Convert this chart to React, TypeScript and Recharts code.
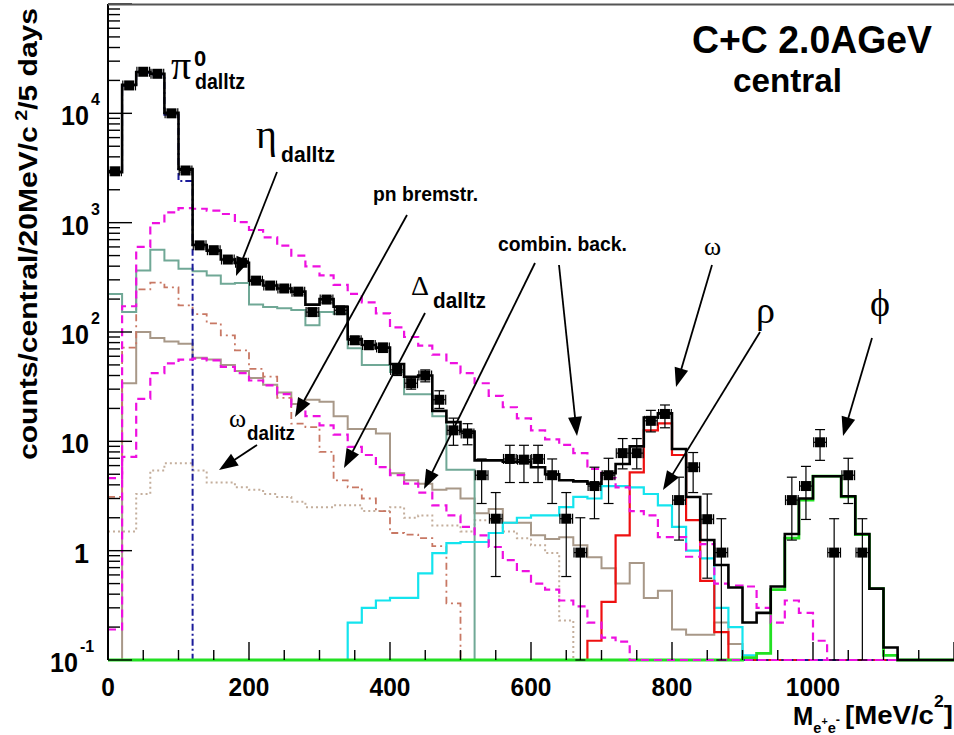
import React from 'react';
import { ComposedChart, Line, Scatter, XAxis, YAxis, ErrorBar } from 'recharts';

// ---------- binning ----------
const BIN_WIDTH = 20; // MeV/c^2
const MASS_MAX = 1200;
const AXIS_FLOOR = 0.1; // contents below the plotted range are drawn on the lower frame

// ---------- axis ticks ----------
const X_TICKS = [0, 50, 100, 150, 200, 250, 300, 350, 400, 450, 500, 550, 600, 650, 700, 750, 800, 850, 900, 950, 1000, 1050, 1100, 1150, 1200];
const X_LABELS = [0, 200, 400, 600, 800, 1000];
const Y_DECADES = [0.1, 1, 10, 100, 1000, 10000];
const Y_MANTISSAS = [1, 2, 3, 4, 5, 6, 7, 8, 9];
const Y_TOP = 100000;
const Y_LABELS = [
  { v: 0.1, base: '10', exp: '-1' },
  { v: 1, base: '1', exp: '' },
  { v: 10, base: '10', exp: '' },
  { v: 100, base: '10', exp: '2' },
  { v: 1000, base: '10', exp: '3' },
  { v: 10000, base: '10', exp: '4' },
];

// ---------- histograms: first bin lower edge + contents per 20 MeV bin ----------
const totalStart = 0;
const total = [2900, 18200, 23900, 23000, 10100, 3100, 625, 555, 460, 430, 295, 266, 250, 234, 178, 200, 170, 86, 76, 72, 51, 39, 40, 19, 15, 12.3, 6.7, 6.7, 6.5, 6.5, 5.8, 5.0, 4.4, 4.3, 4.1, 5.1, 6.2, 9.0, 16.5, 18, 8.5, 3.1, 1.25, 0.74, 0.46, 0.22, 0.27, 0.47, 1.42, 3.0, 4.8, 4.8, 3.15, 1.42, 0.45, 0.13];

const pi0Start = 0;
const pi0Dalitz = [2900, 17800, 23500, 22700, 9700, 2400];

const etaStart = 0;
const etaDalitz = [223, 152, 365, 564, 450, 378, 360, 328, 276, 280, 178, 169, 165, 159, 115, 152, 147, 71, 50, 50, 43, 27, 27, 17, 5.5, 5.5];

const bremsHighStart = 0;
const bremsHigh = [4.6, 172, 600, 990, 1240, 1360, 1340, 1290, 1200, 1010, 857, 735, 617, 500, 398, 330, 270, 223, 187, 148, 110, 90, 75, 62, 52, 42, 34, 26, 20.5, 16.2, 12.6, 10.4, 9.3, 7.8, 5.6, 4.6, 3.8, 2.3, 2.1, 1.33, 1.33, 0.88, 1.15, 0.5, 0.48, 0.47, 0.3, 0.22, 0.35, 0.27, 0.15];

const bremsLowStart = 0;
const bremsLow = [0.19, 7.2, 24.5, 42, 51.6, 55.8, 57, 55, 48, 42, 36, 32.5, 27, 21, 17, 14, 11.5, 8.9, 7.5, 5.8, 4.9, 4.1, 3.4, 2.6, 2.1, 1.65, 1.38, 1.08, 0.82, 0.65, 0.5, 0.44, 0.35, 0.31, 0.22, 0.16, 0.147];

const pnBremsStart = 20;
const pnBrems = [34, 100, 88, 82, 78, 58, 56, 50, 44, 38, 33, 28, 22, 24, 23, 17, 13, 13, 11.8, 5.1, 4.4, 4.1, 3.6, 3.7, 3.0, 2.2, 2.4, 1.8, 1.8, 1.38, 1.28, 1.33, 1.12, 0.87, 0.69, 0.5, 0.77, 0.37, 0.43, 0.19, 0.17, 0.17, 0.22, 0.14];

const deltaStart = 0;
const deltaDalitz = [3.1, 72, 245, 283, 256, 175, 146, 120, 93, 68, 46, 39, 25, 14.5, 13.5, 8, 4.4, 3.8, 3.0, 2.3, 1.45, 1.4, 1.3, 1.1, 0.33];

const omegaDalitzStart = 0;
const omegaDalitz = [1.5, 1.5, 3.3, 5.4, 6.3, 6.3, 5.4, 4.2, 4.2, 3.8, 3.6, 3.3, 3.1, 2.8, 2.5, 2.5, 2.6, 2.6, 2.3, 2.3, 2.5, 2.0, 2.1, 1.7, 1.7, 1.5, 1.9, 1.9, 1.5, 1.3, 1.12, 0.95, 0.23];

const combStart = 340;
const combBack = [0.22, 0.3, 0.35, 0.37, 0.37, 0.62, 0.95, 1.17, 1.2, 1.2, 1.45, 1.8, 2.0, 2.1, 2.1, 2.5, 3.1, 3.0, 3.9, 3.9, 3.8, 3.3, 2.6, 1.65, 1.0, 0.85, 0.3, 0.2, 0.11];

const omegaStart = 680;
const omega = [0.15, 0.34, 1.38, 5.2, 12.6, 14.6, 7.5, 1.9, 0.53, 0.18];

const phiStart = 900;
const phi = [0.105, 0.115, 0.44, 1.3, 2.9, 4.8, 4.8, 3.1, 1.4, 0.45, 0.11];

// ---------- data points ----------
const PT_MASS = [10, 30, 50, 70, 90, 110, 130, 150, 170, 190, 210, 230, 250, 270, 290, 310, 330, 350, 370, 390, 410, 430, 450, 470, 490, 510, 530, 550, 570, 590, 610, 630, 650, 670, 690, 710, 730, 750, 770, 790, 810, 830, 850, 870, 970, 990, 1010, 1030, 1050, 1070];
const PT_COUNTS = [2950, 18000, 24000, 23000, 10000, 3000, 620, 560, 460, 430, 295, 266, 250, 234, 152, 198, 158, 84, 76, 72, 45, 34, 40, 24, 12.6, 11.8, 4.9, 1.96, 6.9, 6.8, 6.9, 4.9, 1.96, 0.96, 3.9, 4.9, 7.8, 7.8, 15.4, 17.8, 2.9, 5.8, 1.94, 0.96, 2.9, 3.9, 9.8, 0.96, 4.9, 0.96];
const PT_LOW = [2850, 17700, 23700, 22700, 9800, 2900, 600, 540, 442, 412, 282, 252, 236, 221, 140, 185, 146, 77, 69, 65, 40, 30, 35, 20, 9.2, 9.3, 2.7, 0.58, 4.2, 4.2, 4.2, 2.7, 0.58, 0.1, 1.96, 2.7, 5.6, 5.6, 12.2, 13.3, 1.25, 3.4, 0.56, 0.1, 1.25, 1.93, 6.7, 0.1, 2.7, 0.1];
const PT_HIGH = [3050, 18300, 24300, 23300, 10200, 3100, 640, 580, 478, 448, 308, 280, 264, 247, 165, 211, 170, 91, 83, 79, 50, 38, 45, 29, 16.3, 14.5, 6.9, 3.4, 9.2, 9.2, 9.2, 6.9, 3.4, 2.0, 5.8, 7.0, 10.6, 10.6, 19.2, 21.5, 4.7, 7.9, 3.3, 1.96, 4.7, 5.9, 12.8, 1.96, 7.0, 1.96];
const PT_XERR = 9;

// ---------- helpers ----------
function hist(start: number, vals: number[]) {
  const n = MASS_MAX / BIN_WIDTH;
  const out: { x: number; v: number }[] = [];
  for (let i = 0; i < n; i++) {
    const edge = i * BIN_WIDTH;
    const k = Math.round((edge - start) / BIN_WIDTH);
    const v = k >= 0 && k < vals.length ? vals[k] : AXIS_FLOOR;
    out.push({ x: edge, v });
  }
  out.push({ x: MASS_MAX, v: out[n - 1].v });
  return out;
}

const Y_TICKS: number[] = [];
Y_DECADES.forEach((d) => Y_MANTISSAS.forEach((m) => Y_TICKS.push(m * d)));
Y_TICKS.push(Y_TOP);

const points = PT_MASS.map((m, i) => ({
  x: m,
  v: PT_COUNTS[i],
  ey: [PT_COUNTS[i] - PT_LOW[i], PT_HIGH[i] - PT_COUNTS[i]],
  ex: PT_XERR,
}));

const SANS = '"Liberation Sans", Arial, Helvetica, sans-serif';
const SERIF = '"Liberation Serif", "DejaVu Serif", "Times New Roman", serif';

const YTick = (props: any) => {
  const { x, y, payload } = props;
  const v = payload.value;
  const lg = Math.log10(v);
  const major = Math.abs(lg - Math.round(lg)) < 1e-6;
  const lab = Y_LABELS.find((l) => Math.abs(Math.log10(l.v) - lg) < 1e-6);
  const neg = lab && lab.exp === '-1';
  const baseRight = neg ? 78 : 89;
  return (
    <g>
      <line x1={x} x2={x + (major ? 24 : 12)} y1={y} y2={y} stroke="#000" strokeWidth={1.4} />
      {lab && (
        <text x={baseRight} y={y + 12} textAnchor="end" fontSize={28} fontWeight="bold" fontFamily={SANS} fill="#000"
          textLength={lab.base.length === 1 ? 15 : 28} lengthAdjust="spacingAndGlyphs">{lab.base}</text>
      )}
      {lab && lab.exp && (
        <text x={baseRight + 2} y={y - 8} fontSize={16} fontWeight="bold" fontFamily={SANS} fill="#000">{lab.exp}</text>
      )}
    </g>
  );
};

const XTick = (props: any) => {
  const { x, y, payload } = props;
  const v = payload.value;
  const major = v % 200 === 0;
  return (
    <g>
      <line x1={x} x2={x} y1={y} y2={y - (major ? 18 : 10)} stroke="#000" strokeWidth={1.4} />
      {X_LABELS.includes(v) && (
        <text x={x} y={y + 36} textAnchor="middle" fontSize={26} fontWeight="bold" fontFamily={SANS} fill="#000"
          textLength={String(v).length * 13.6} lengthAdjust="spacingAndGlyphs">{v}</text>
      )}
    </g>
  );
};

const Arrow = ({ a }: { a: number[] }) => {
  const [x1, y1, x2, y2] = a;
  const dx = x2 - x1, dy = y2 - y1;
  const len = Math.hypot(dx, dy);
  const ux = dx / len, uy = dy / len;
  const L = 19, W = 7;
  const bx = x2 - ux * L, by = y2 - uy * L;
  const px = -uy, py = ux;
  return (
    <g>
      <line x1={x1} y1={y1} x2={bx + ux * 3} y2={by + uy * 3} stroke="#000" strokeWidth={1.8} />
      <polygon points={`${x2},${y2} ${bx + px * W},${by + py * W} ${bx - px * W},${by - py * W}`} fill="#000" />
    </g>
  );
};

const ARROWS = [
  [277, 172, 236, 276],
  [407, 215, 295, 417],
  [425, 313, 344, 468],
  [535, 263, 424, 489],
  [559, 265, 577, 436],
  [712, 265, 676, 387],
  [760, 332, 663, 490],
  [872, 338, 843, 436],
  [257, 445, 219, 470],
];

const square = (p: any) => <rect x={p.cx - 5} y={p.cy - 5} width={10} height={10} fill="#000" />;

export default function App() {
  const common = { type: 'stepAfter' as const, dataKey: 'v', dot: false, activeDot: false, isAnimationActive: false };
  return (
    <div style={{ position: 'absolute', left: 0, top: 0, width: 954, height: 735, background: '#fff', overflow: 'hidden' }}>
      <ComposedChart width={954} height={735} margin={{ top: 4, right: 0, bottom: 35, left: 8 }}>
        <XAxis dataKey="x" type="number" domain={[0, MASS_MAX]} ticks={X_TICKS} interval={0} tickSize={0} tickMargin={0}
          tickLine={false} tick={(p: any) => <XTick {...p} />} axisLine={false} height={40} />
        <YAxis type="number" scale="log" domain={[0.1, Y_TOP]} ticks={Y_TICKS} interval={0} tickSize={0} tickMargin={0}
          tickLine={false} tick={(p: any) => <YTick {...p} />} axisLine={{ stroke: '#000', strokeWidth: 2 }} width={100} />
        <Line {...common} data={hist(omegaDalitzStart, omegaDalitz)} stroke="#c4ae9c" strokeWidth={2} strokeDasharray="2 3" />
        <Line {...common} data={hist(pnBremsStart, pnBrems)} stroke="#a89888" strokeWidth={2} />
        <Line {...common} data={hist(deltaStart, deltaDalitz)} stroke="#c87864" strokeWidth={1.8} strokeDasharray="7 4 2 4" />
        <Line {...common} data={hist(etaStart, etaDalitz)} stroke="#70a896" strokeWidth={2} />
        <Line {...common} data={hist(combStart, combBack)} stroke="#14e4ee" strokeWidth={2.2} />
        <Line {...common} data={hist(omegaStart, omega)} stroke="#ee1010" strokeWidth={2.2} />
        <Line {...common} data={hist(pi0Start, pi0Dalitz)} stroke="#1b1b9a" strokeWidth={2} strokeDasharray="7 3 2 3" />
        <Line {...common} data={hist(phiStart, phi)} stroke="#22e022" strokeWidth={2.8} />
        <Line {...common} data={hist(bremsLowStart, bremsLow)} stroke="#ee10e0" strokeWidth={2.2} strokeDasharray="8 5" />
        <Line {...common} data={hist(bremsHighStart, bremsHigh)} stroke="#ee10e0" strokeWidth={2.2} strokeDasharray="8 5" />
        <Line {...common} data={hist(totalStart, total)} stroke="#000" strokeWidth={2.6} />
        <Scatter data={points} dataKey="v" shape={square} isAnimationActive={false}>
          <ErrorBar dataKey="ey" direction="y" width={5} stroke="#000" strokeWidth={1.2} />
          <ErrorBar dataKey="ex" direction="x" width={5} stroke="#000" strokeWidth={1.2} />
        </Scatter>
      </ComposedChart>
      <svg width={954} height={735} style={{ position: 'absolute', left: 0, top: 0, pointerEvents: 'none' }}>
        <line x1={108} y1={4.5} x2={954} y2={4.5} stroke="#555" strokeWidth={2} />
        {/* y axis title */}
        <text transform="translate(37,234) rotate(-90)" textAnchor="middle" fontSize={26} fontWeight="bold" fontFamily={SANS}
          textLength={452} lengthAdjust="spacingAndGlyphs">
          counts/central/20MeV/c<tspan dy={-10} fontSize={17}> 2</tspan><tspan dy={10}>/5 days</tspan>
        </text>
        {/* x axis title */}
        <text x={793} y={725} fontSize={25} fontWeight="bold" fontFamily={SANS} fill="#000"
          textLength={47} lengthAdjust="spacingAndGlyphs">
          M<tspan fontSize={15} dy={8}>e</tspan><tspan fontSize={11} dy={-8}>+</tspan><tspan fontSize={15} dy={8}>e</tspan><tspan fontSize={13} dy={-9}>-</tspan>
        </text>
        <text x={845} y={724} fontSize={25} fontWeight="bold" fontFamily={SANS} fill="#000"
          textLength={108} lengthAdjust="spacingAndGlyphs">
          [MeV/c<tspan fontSize={16} dy={-17}>2</tspan><tspan dy={17}>]</tspan>
        </text>
        {/* title */}
        <g fontFamily={SANS} fontWeight="bold" fill="#000">
          <text x={692} y={53} fontSize={38} textLength={240} lengthAdjust="spacingAndGlyphs">C+C 2.0AGeV</text>
          <text x={733} y={92} fontSize={34} textLength={109} lengthAdjust="spacingAndGlyphs">central</text>
        </g>
        {/* annotations */}
        <g fill="#000">
          <text x={171} y={79} fontSize={40} fontFamily={SERIF}>π</text>
          <text x={194} y={66} fontSize={22} fontWeight="bold" fontFamily={SANS}>0</text>
          <text x={195} y={89} fontSize={22} fontWeight="bold" fontFamily={SANS} textLength={50} lengthAdjust="spacingAndGlyphs">dalltz</text>

          <text x={256} y={148} fontSize={40} fontFamily={SERIF}>η</text>
          <text x={281} y={162} fontSize={22} fontWeight="bold" fontFamily={SANS} textLength={54} lengthAdjust="spacingAndGlyphs">dalltz</text>

          <text x={373} y={201} fontSize={21} fontWeight="bold" fontFamily={SANS} textLength={105} lengthAdjust="spacingAndGlyphs">pn bremstr.</text>

          <text x={411} y={295} fontSize={28} fontFamily={SERIF}>Δ</text>
          <text x={433} y={308} fontSize={22} fontWeight="bold" fontFamily={SANS} textLength={53} lengthAdjust="spacingAndGlyphs">dalltz</text>

          <text x={498} y={251} fontSize={21} fontWeight="bold" fontFamily={SANS} textLength={129} lengthAdjust="spacingAndGlyphs">combin. back.</text>

          <text x={704} y={255} fontSize={26} fontFamily={SERIF}>ω</text>
          <text x={756} y={323} fontSize={38} fontFamily={SERIF}>ρ</text>
          <text x={870} y={316} fontSize={38} fontFamily={SERIF}>ϕ</text>

          <text x={229} y={427} fontSize={26} fontFamily={SERIF}>ω</text>
          <text x={247} y={440} fontSize={20} fontWeight="bold" fontFamily={SANS} textLength={48} lengthAdjust="spacingAndGlyphs">dalitz</text>
        </g>
        {ARROWS.map((a, i) => <Arrow key={i} a={a} />)}
      </svg>
    </div>
  );
}
